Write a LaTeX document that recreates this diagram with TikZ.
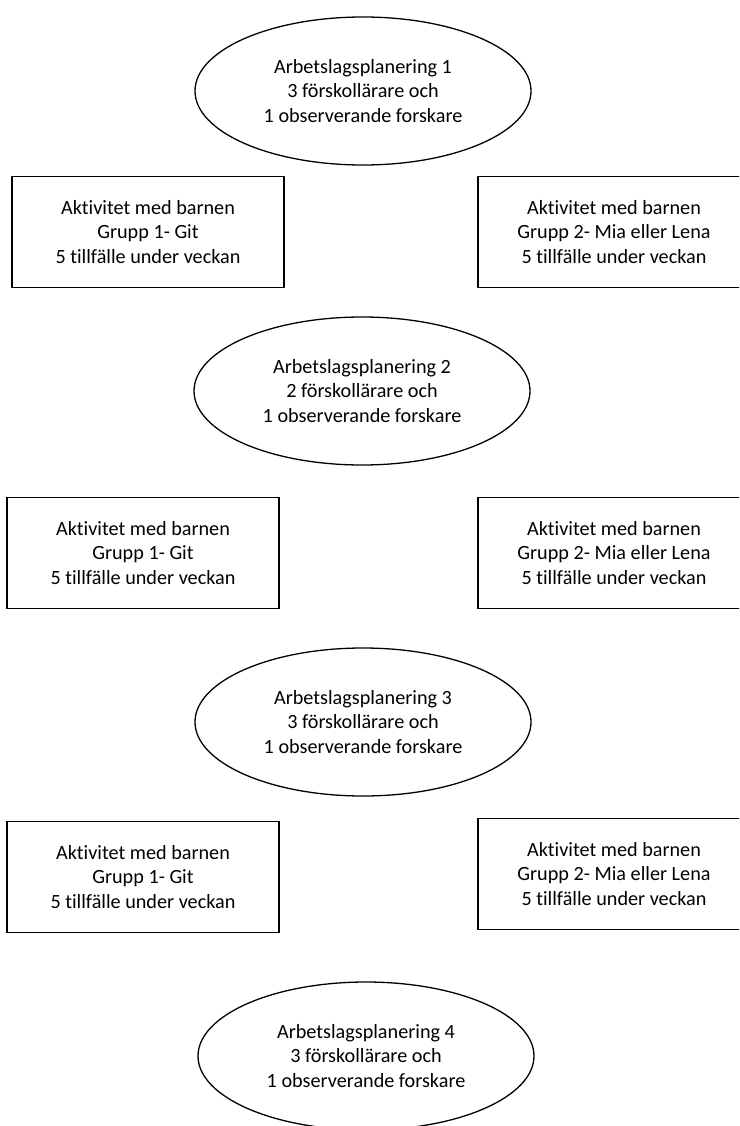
\documentclass[tikz,border=0pt]{standalone}
\usepackage{fontspec}
\setmainfont{Carlito}[Ligatures={NoCommon}]
\usetikzlibrary{shapes.geometric}
\begin{document}
\begin{tikzpicture}[x=1pt,y=-1pt,
  ell/.style={draw, ellipse, line width=1.3pt, minimum width=336pt, minimum height=148pt, inner sep=0pt, align=center, font=\fontsize{20.2}{24.5}\selectfont},
  box/.style={draw, rectangle, line width=1.3pt, minimum width=272pt, minimum height=111pt, inner sep=0pt, align=center, font=\fontsize{20.2}{24.5}\selectfont}]
\useasboundingbox (0,0) rectangle (739,1126);
\clip (0,0) rectangle (739,1126);
\node[ell] (e1) at (363,91) {Arbetslagsplanering 1\\3 förskollärare och\\1 observerande forskare};
\node[box] (l1) at (148,232) {Aktivitet med barnen\\Grupp 1- Git\\5 tillfälle under veckan};
\node[box] (r1) at (614,232) {Aktivitet med barnen\\Grupp 2- Mia eller Lena\\5 tillfälle under veckan};
\node[ell] (e2) at (362,391) {Arbetslagsplanering 2\\2 förskollärare och\\1 observerande forskare};
\node[box] (l2) at (143,553) {Aktivitet med barnen\\Grupp 1- Git\\5 tillfälle under veckan};
\node[box] (r2) at (614,553) {Aktivitet med barnen\\Grupp 2- Mia eller Lena\\5 tillfälle under veckan};
\node[ell] (e3) at (363,722) {Arbetslagsplanering 3\\3 förskollärare och\\1 observerande forskare};
\node[box] (l3) at (143,877) {Aktivitet med barnen\\Grupp 1- Git\\5 tillfälle under veckan};
\node[box] (r3) at (614,874) {Aktivitet med barnen\\Grupp 2- Mia eller Lena\\5 tillfälle under veckan};
\node[ell] (e4) at (366,1056) {Arbetslagsplanering 4\\3 förskollärare och\\1 observerande forskare};
\end{tikzpicture}
\end{document}
